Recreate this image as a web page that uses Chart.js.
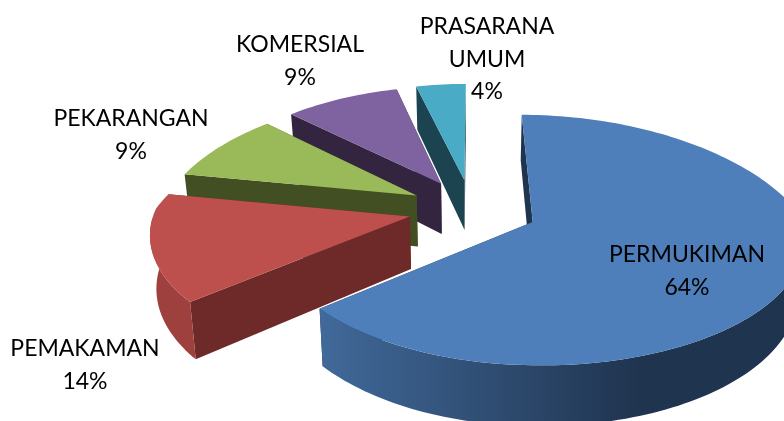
<!DOCTYPE html>
<html><head><meta charset="utf-8">
<style>html,body{margin:0;padding:0;background:#fff}canvas{display:block}</style>
<script src="https://cdn.jsdelivr.net/npm/chart.js@4"></script>
</head><body><canvas id="c" width="784" height="421"></canvas>
<script>
const categories = ["PERMUKIMAN", "PEMAKAMAN", "PEKARANGAN", "KOMERSIAL", "PRASARANA UMUM"];
const labelLines = [["PERMUKIMAN"], ["PEMAKAMAN"], ["PEKARANGAN"], ["KOMERSIAL"], ["PRASARANA", "UMUM"]];
const shares = [64, 14, 9, 9, 4];
const topColors = ["#4f7fba", "#bd504c", "#9aba59", "#7f63a1", "#4aabc6"];
const wallColors = ["#1f344f", "#6d2a28", "#414f22", "#33243f", "#1c4350"];
const wallLight = ["#41699a", "#9e403d", "#5b7130", "#55426c", "#2f7284"];
const labelAnchors = [[687, 255], [85, 349], [131, 119], [300, 45], [487, 27]];

const view = {cx: 472, cy: 209, rxLeft: 255, rxRight: 265, ry: 121, kxBack: 0.23, kxFront: 0.12, kyBack: 0.166, kyFront: 0.13, depth: 52, narrow: 0.98, explode: 0.25};

function project(wx, wy, drop) {
  const sx = 1 / (1 + (wy > 0 ? view.kxBack : view.kxFront) * wy);
  const sy = 1 / (1 + (wy > 0 ? view.kyBack : view.kyFront) * wy);
  const dx = wx * sx * (wx > 0 ? view.rxRight : view.rxLeft) * (drop ? view.narrow : 1);
  return [view.cx + dx, view.cy - wy * sy * view.ry + (drop ? view.depth * sy : 0)];
}
function polygon(ctx, pts) {
  ctx.beginPath();
  pts.forEach((p, i) => i ? ctx.lineTo(p[0], p[1]) : ctx.moveTo(p[0], p[1]));
  ctx.closePath();
}
const slice3d = {
  id: "slice3d",
  beforeDatasetDraw(chart, args) {
    const ctx = chart.ctx, arcs = chart.getDatasetMeta(args.index).data;
    const shapes = arcs.map((arc) => {
      const a0 = arc.startAngle + Math.PI / 2, a1 = arc.endAngle + Math.PI / 2, mid = (a0 + a1) / 2;
      const ox = view.explode * Math.sin(mid), oy = view.explode * Math.cos(mid);
      const rim = [], front = [], n = Math.max(4, Math.ceil((a1 - a0) * 40));
      for (let i = 0; i <= n; i++) {
        const t = a0 + (a1 - a0) * i / n;
        const p = [ox + Math.sin(t), oy + Math.cos(t)];
        rim.push(p);
        if (Math.cos(t) < 0) front.push(p);
      }
      return {apex: [ox, oy], rim, front};
    });
    ctx.save();
    [4, 3, 2, 1, 0].forEach((i) => {
      const {apex, rim, front} = shapes[i];
      const topRim = rim.map((p) => project(p[0], p[1], false));
      const lowRim = rim.map((p) => project(p[0], p[1], true));
      const a = project(apex[0], apex[1], false), b = project(apex[0], apex[1], true);
      ctx.fillStyle = wallColors[i];
      polygon(ctx, [a, topRim[0], lowRim[0], b]); ctx.fill();
      const last = rim.length - 1;
      polygon(ctx, [a, topRim[last], lowRim[last], b]); ctx.fill();
      if (front.length > 1) {
        const upper = front.map((p) => project(p[0], p[1], false));
        const lower = front.map((p) => project(p[0], p[1], true));
        const xs = upper.map((p) => p[0]);
        const g = ctx.createLinearGradient(Math.min(...xs), 0, i === 0 ? 640 : Math.max(...xs), 0);
        g.addColorStop(0, wallLight[i]);
        g.addColorStop(1, i === 0 ? wallColors[i] : wallLight[i]);
        ctx.fillStyle = g;
        polygon(ctx, upper.concat(lower.slice().reverse()));
        ctx.fill();
      }
      ctx.fillStyle = topColors[i];
      polygon(ctx, [a].concat(topRim)); ctx.fill();
    });
    ctx.restore();
    return false;
  },
  afterDraw(chart) {
    const ctx = chart.ctx, lh = 32.5;
    ctx.save();
    ctx.font = '23px Lato, sans-serif';
    ctx.fillStyle = "#000";
    ctx.textAlign = "center";
    ctx.textBaseline = "middle";
    labelLines.forEach((lines, i) => {
      const rows = lines.concat(shares[i] + "%");
      rows.forEach((t, j) => ctx.fillText(t, labelAnchors[i][0], labelAnchors[i][1] + j * lh));
    });
    ctx.restore();
  }
};
new Chart(document.getElementById("c"), {
  type: "pie",
  data: {labels: categories, datasets: [{data: shares, backgroundColor: topColors}]},
  options: {responsive: false, animation: false, plugins: {legend: {display: false}, tooltip: {enabled: false}}},
  plugins: [slice3d]
});
</script></body></html>
